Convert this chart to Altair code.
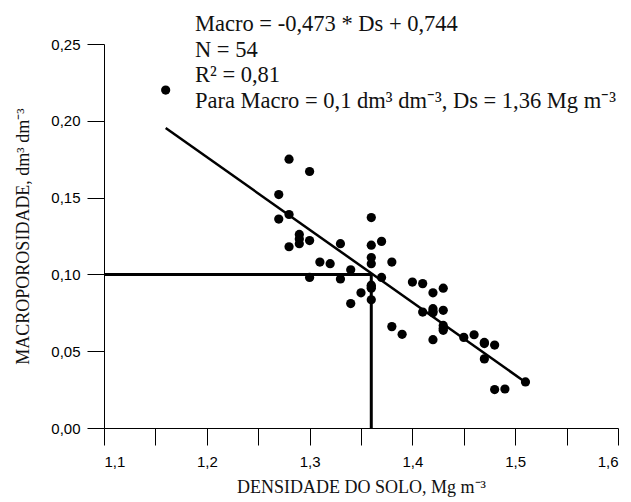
import altair as alt
import pandas as pd

# Scatter data: soil bulk density (Ds) vs macroporosity
ds = [1.16, 1.28, 1.30, 1.27, 1.28, 1.27, 1.36, 1.29, 1.29, 1.28,
      1.30, 1.33, 1.36, 1.37, 1.31, 1.32, 1.36, 1.36, 1.38, 1.34,
      1.30, 1.33, 1.37, 1.36, 1.36, 1.35, 1.34, 1.36, 1.40, 1.41,
      1.42, 1.43, 1.41, 1.42, 1.42, 1.43, 1.43, 1.43, 1.38, 1.39,
      1.42, 1.45, 1.46, 1.47, 1.48, 1.47, 1.51, 1.48, 1.49,
      1.36, 1.42, 1.43, 1.47, 1.29]
macro = [0.220, 0.175, 0.167, 0.152, 0.139, 0.136, 0.137, 0.126, 0.120, 0.118,
         0.122, 0.120, 0.119, 0.1215, 0.108, 0.107, 0.111, 0.107, 0.108, 0.103,
         0.098, 0.097, 0.098, 0.093, 0.091, 0.088, 0.081, 0.0835, 0.095, 0.094,
         0.088, 0.091, 0.0755, 0.0777, 0.075, 0.0766, 0.0668, 0.0636, 0.066, 0.061,
         0.0575, 0.059, 0.0607, 0.0557, 0.054, 0.045, 0.030, 0.025, 0.0254,
         0.092, 0.076, 0.065, 0.055, 0.123]

# Regression line endpoints (Macro = -0.473 * Ds + 0.744)
reg_x = [1.16, 1.51]
reg_y = [0.1953, 0.0298]

# Reference lines for Macro = 0.1 -> Ds = 1.36
ref_x = [1.10, 1.36]
ref_x2 = [1.36, 1.36]
ref_y = [0.10, 0.00]
ref_y2 = [0.10, 0.10]

x_ticks = [1.10, 1.15, 1.20, 1.25, 1.30, 1.35, 1.40, 1.45, 1.50, 1.55, 1.60]
y_ticks = [0.00, 0.05, 0.10, 0.15, 0.20, 0.25]

annotation = ("Macro = -0,473 * Ds + 0,744\nN = 54\nR\u00b2 = 0,81\n"
              "Para Macro = 0,1 dm\u00b3 dm\u207b\u00b3, Ds = 1,36 Mg m\u207b\u00b3")

pts = pd.DataFrame({"ds": ds, "macro": macro})
reg = pd.DataFrame({"ds": reg_x, "macro": reg_y})
ref = pd.DataFrame({"x": ref_x, "x2": ref_x2, "y": ref_y, "y2": ref_y2})
ann = pd.DataFrame({"t": [annotation]})

xscale = alt.Scale(domain=[1.1, 1.6], nice=False, zero=False)
yscale = alt.Scale(domain=[0, 0.25], nice=False)

xaxis = alt.Axis(
    title="DENSIDADE DO SOLO, Mg m\u207b\u00b3",
    values=x_ticks,
    labelExpr="round(datum.value*20) % 2 == 0 ? replace(format(datum.value, '.1f'), '.', ',') : ''",
    labelPadding=9,
    titlePadding=9,
)
yaxis = alt.Axis(
    title="MACROPOROSIDADE, dm\u00b3 dm\u207b\u00b3",
    values=y_ticks,
    labelExpr="replace(format(datum.value, '.2f'), '.', ',')",
    labelPadding=7,
    titlePadding=18,
)

points = alt.Chart(pts).mark_circle(size=85, color="black", opacity=1).encode(
    x=alt.X("ds:Q", scale=xscale, axis=xaxis),
    y=alt.Y("macro:Q", scale=yscale, axis=yaxis),
)

line = alt.Chart(reg).mark_line(color="black", strokeWidth=2.5).encode(
    x=alt.X("ds:Q", scale=xscale),
    y=alt.Y("macro:Q", scale=yscale),
)

rules = alt.Chart(ref).mark_rule(color="black", strokeWidth=3).encode(
    x=alt.X("x:Q", scale=xscale),
    x2="x2:Q",
    y=alt.Y("y:Q", scale=yscale),
    y2="y2:Q",
)

text = alt.Chart(ann).mark_text(
    align="left", baseline="alphabetic", font="Liberation Serif",
    fontSize=22.5, lineBreak="\n", lineHeight=25.7, color="#111",
).encode(
    text="t:N",
    x=alt.value(91),
    y=alt.value(-13),
)

chart = alt.layer(points, line, rules, text).properties(
    width=514,
    height=384,
    autosize=alt.AutoSizeParams(type="none"),
    padding={"left": 96, "top": 36, "right": 5, "bottom": 72},
).configure_view(stroke=None).configure_axis(
    grid=False,
    domainColor="black",
    domainWidth=1,
    tickColor="black",
    tickSize=17,
    tickWidth=1,
    labelFont="Liberation Sans",
    labelFontSize=15,
    labelColor="black",
    titleFont="Liberation Serif",
    titleFontSize=18,
    titleFontWeight="normal",
    titleColor="#111",
)

chart.save("out.html", embed_options={"renderer": "svg", "actions": False})
